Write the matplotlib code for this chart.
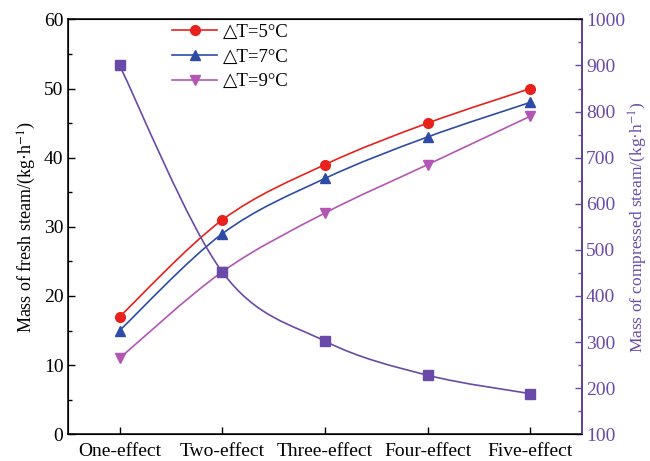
import matplotlib
matplotlib.use("Agg")
import matplotlib.pyplot as plt
from matplotlib.path import Path
from matplotlib.patches import PathPatch
from matplotlib.lines import Line2D
from matplotlib.ticker import MultipleLocator

plt.rcParams['font.family'] = ['Liberation Serif', 'DejaVu Serif', 'DejaVu Sans']
plt.rcParams['mathtext.fontset'] = 'stix'

# data
effects = ['One-effect', 'Two-effect', 'Three-effect', 'Four-effect', 'Five-effect']
fresh_dt5 = [17, 31, 39, 45, 50]
fresh_dt7 = [15, 29, 37, 43, 48]
fresh_dt9 = [11, 23.5, 32, 39, 46]
compressed = [900, 452, 302, 228, 188]
series_labels = ['△T=5°C', '△T=7°C', '△T=9°C']

RED = '#e8211c'
BLUE = '#2e4ca6'
PINK = '#b455b4'
PURPLE = '#6a4aa8'


def smooth_path(xs, ys):
    """Catmull-Rom curve through the points, as a bezier path."""
    pts = list(zip(xs, ys))
    n = len(pts)
    verts = [pts[0]]
    codes = [Path.MOVETO]
    for i in range(n - 1):
        p0 = pts[i - 1] if i > 0 else pts[i]
        p1 = pts[i]
        p2 = pts[i + 1]
        p3 = pts[i + 2] if i + 2 < n else pts[i + 1]
        c1 = (p1[0] + (p2[0] - p0[0]) / 6, p1[1] + (p2[1] - p0[1]) / 6)
        c2 = (p2[0] - (p3[0] - p1[0]) / 6, p2[1] - (p3[1] - p1[1]) / 6)
        verts += [c1, c2, p2]
        codes += [Path.CURVE4] * 3
    return Path(verts, codes)


def draw_series(ax, xs, ys, color, marker, ms):
    ax.add_patch(PathPatch(smooth_path(xs, ys), fill=False, edgecolor=color, lw=1.2))
    ax.plot(xs, ys, linestyle='none', marker=marker, color=color, ms=ms)


fig = plt.figure(figsize=(6.5, 4.61), dpi=100)
ax = fig.add_axes([0.105, 0.058, 0.79, 0.9])
ax2 = ax.twinx()

x = list(range(len(effects)))
draw_series(ax, x, fresh_dt5, RED, 'o', 7)
draw_series(ax, x, fresh_dt7, BLUE, '^', 7.5)
draw_series(ax, x, fresh_dt9, PINK, 'v', 7.5)
draw_series(ax2, x, compressed, PURPLE, 's', 6.5)

ax.set_xlim(-0.5, 4.5)
ax.set_ylim(0, 60)
ax2.set_ylim(100, 1000)

ax.set_xticks(x)
ax.set_xticklabels(effects)
ax.yaxis.set_major_locator(MultipleLocator(10))
ax.yaxis.set_minor_locator(MultipleLocator(5))
ax2.yaxis.set_major_locator(MultipleLocator(100))
ax2.yaxis.set_minor_locator(MultipleLocator(50))

ax.tick_params(axis='both', which='major', direction='in', length=5, width=1, labelsize=14)
ax.tick_params(axis='y', which='minor', direction='in', length=3, width=1)
ax.tick_params(axis='x', pad=6)
ax2.tick_params(axis='y', which='major', direction='in', length=5, width=1,
                labelsize=14, colors=PURPLE, pad=3)
ax2.tick_params(axis='y', which='minor', direction='in', length=3, width=1, colors=PURPLE)
ax2.spines['right'].set_color(PURPLE)
for s in ax.spines.values():
    s.set_linewidth(1.1)
ax2.spines['right'].set_linewidth(1.1)

ax.set_ylabel('Mass of fresh steam/(kg·h$^{-1}$)', fontsize=13, labelpad=4)
ax2.set_ylabel('Mass of compressed steam/(kg·h$^{-1}$)', fontsize=12.5,
               color=PURPLE, labelpad=1)

handles = [
    Line2D([], [], color=RED, marker='o', ms=7, lw=1.2),
    Line2D([], [], color=BLUE, marker='^', ms=7.5, lw=1.2),
    Line2D([], [], color=PINK, marker='v', ms=7.5, lw=1.2),
]
ax.legend(handles, series_labels, loc='upper left', bbox_to_anchor=(0.17, 1.03),
          frameon=False, fontsize=13.5, handlelength=2.4, handletextpad=0.3,
          labelspacing=0.4)

fig.savefig('out.png', dpi=100)
